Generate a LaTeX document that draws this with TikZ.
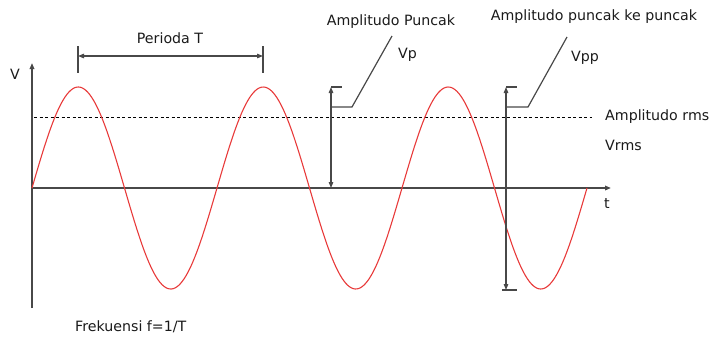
\documentclass[tikz,border=0pt]{standalone}
\usepackage{fontspec}
\setmainfont{DejaVu Sans}
\usetikzlibrary{arrows.meta}
\definecolor{axisgray}{HTML}{484848}
\definecolor{wavered}{HTML}{E83A3A}
\definecolor{txt}{HTML}{1A1A1A}
\begin{document}
\begin{tikzpicture}[x=1pt,y=-1pt,
  lbl/.style={inner sep=0pt,text=txt,font=\fontsize{14.2}{16}\selectfont},
  ax/.style={draw=axisgray,line width=1.5pt},
  mk/.style={draw=axisgray,line width=1.2pt},
  tri/.tip={Triangle[length=6pt,width=4.5pt]},
  wave/.style={draw=wavered,line width=1.1pt}]
\useasboundingbox (0,0) rectangle (712,338);
% axes
\coordinate (o) at (32,188);
\coordinate (ytop) at (32,63);
\coordinate (ybot) at (32,308);
\coordinate (xend) at (611,188);
\draw[ax,-tri] (ybot) -- (ytop);
\draw[ax,-tri] (o) -- (xend);
\node[lbl,anchor=center] (vlab) at (15,74) {V};
\node[lbl,anchor=center] (tlab) at (607,204) {t};
% rms dashed line
\coordinate (rmsA) at (34,117);
\coordinate (rmsB) at (592,117);
\draw[black,line width=0.8pt,dash pattern=on 3pt off 2.5pt] (rmsA) -- (rmsB);
% sine wave
\draw[wave] plot[domain=0:555,samples=300,smooth] ({32+\x},{188-101*sin(\x/185*360)});
% period
\coordinate (p1t) at (78,46);
\coordinate (p1b) at (78,73);
\coordinate (p2t) at (263,46);
\coordinate (p2b) at (263,73);
\coordinate (pa) at (78,56);
\coordinate (pb) at (263,56);
\draw[mk] (p1t) -- (p1b);
\draw[mk] (p2t) -- (p2b);
\draw[mk,tri-tri] (pa) -- (pb);
\node[lbl] (per) at (170,38) {Perioda T};
% Vp marker
\coordinate (vpt) at (331,87);
\coordinate (vpb) at (331,188);
\coordinate (vpm) at (331,107);
\coordinate (vpbar) at (342,87);
\coordinate (vpk) at (352,107);
\coordinate (vpe) at (392,36);
\draw[mk,tri-tri] (vpt) -- (vpb);
\draw[mk] (vpt) -- (vpbar);
\draw[mk] (vpm) -- (vpk) -- (vpe);
\node[lbl] (ap) at (391,22) {Amplitudo Puncak};
\node[lbl,anchor=west] (vp) at (398,55) {Vp};
% Vpp marker
\coordinate (vppt) at (506,87);
\coordinate (vppb) at (506,290);
\coordinate (vppm) at (506,107);
\coordinate (vppbar) at (517,87);
\coordinate (vppbl) at (502,290);
\coordinate (vppbr) at (517,290);
\coordinate (vppk) at (528,107);
\coordinate (vppe) at (567,37);
\draw[mk,tri-tri] (vppt) -- (vppb);
\draw[mk] (vppt) -- (vppbar);
\draw[mk] (vppbl) -- (vppbr);
\draw[mk] (vppm) -- (vppk) -- (vppe);
\node[lbl] (app) at (594,17) {Amplitudo puncak ke puncak};
\node[lbl,anchor=west] (vpp) at (571,58) {Vpp};
% rms labels
\node[lbl,anchor=west] (arms) at (605,117) {Amplitudo rms};
\node[lbl,anchor=west] (vrms) at (605,145) {Vrms};
% frequency
\node[lbl,anchor=west] (frek) at (75,327) {Frekuensi f=1/T};
\end{tikzpicture}
\end{document}
